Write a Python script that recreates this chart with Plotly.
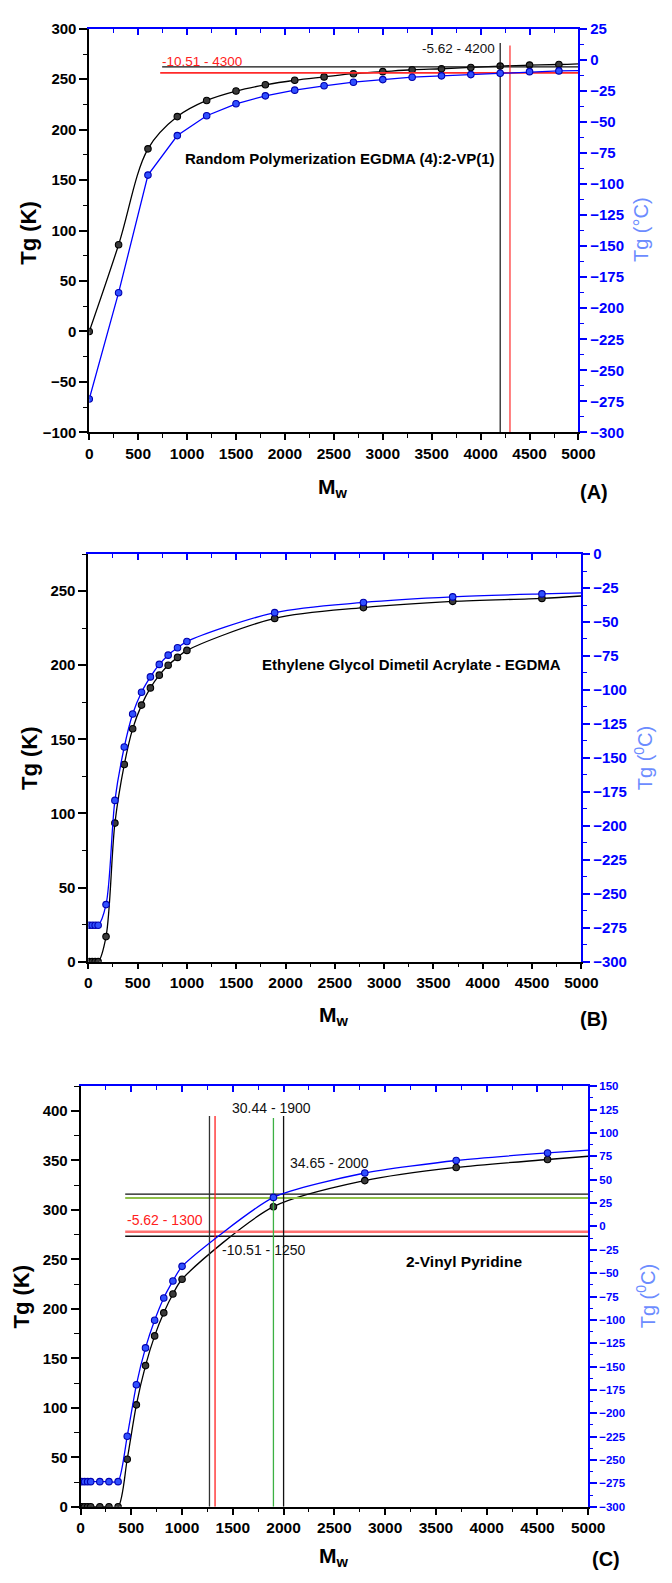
import plotly.graph_objects as go

# ---------------- DATA ----------------
# Panel A : Random Polymerization EGDMA (4):2-VP(1)
a_mw = [0, 300, 600, 900, 1200, 1500, 1800, 2100, 2400, 2700, 3000, 3300, 3600, 3900, 4200, 4500, 4800]
a_tg_k = [0, 86, 181, 213, 229, 238.3, 244.5, 249, 252.3, 255.5, 257.5, 259.4, 260.4, 261.7, 263, 264, 264.6]
a_tg_c = [-273.15, -187.5, -92.8, -61.0, -45.0, -35.4, -29.0, -24.4, -20.9, -18.0, -15.9, -14.0, -12.9, -11.9, -10.8, -9.5, -8.9]
a_curve_end = [5000, 265.3, -8.7]          # M, Tg(K), Tg(C) where the drawn curves end
a_hline_c = [-5.62, -10.51]
a_hline_start = [745, 725]
a_vline_mw = [4200, 4300]
a_vline_top_c = [13.5, 11.6]
a_labels = ["-5.62 - 4200", "-10.51 - 4300"]

# Panel B : Ethylene Glycol Dimetil Acrylate - EGDMA
b_mw = [10, 40, 70, 100, 180, 270, 365, 450, 540, 630, 720, 810, 905, 1000, 1890, 2790, 3695, 4600]
b_tg_k = [0, 0, 0, 0, 16.9, 93.5, 133, 157.1, 173.1, 184.7, 193.3, 200, 205.3, 210, 231.6, 238.9, 243.1, 245.1]
b_tg_c = [-273.15, -273.15, -273.15, -273.15, -258, -181.3, -142, -117.7, -101.7, -90.4, -81.2, -74.4, -69, -64.4, -43.1, -35.6, -31.5, -29.3]
b_curve_end = [5000, 246.7, -28.6]

# Panel C : 2-Vinyl Pyridine
c_mw = [10, 40, 70, 100, 190, 280, 370, 460, 550, 640, 730, 820, 910, 1000, 1900, 2800, 3700, 4600]
c_tg_k = [0, 0, 0, 0, 0, 0, 0, 48, 103, 142.7, 172.7, 196, 215, 230, 303.3, 329.7, 343, 351]
c_tg_c = [-273.15, -273.15, -273.15, -273.15, -273.15, -273.15, -273.15, -224.5, -169.5, -130.0, -100.4, -76.5, -58.3, -42.7, 31.1, 57.2, 70.6, 78.7]
c_curve_end = [5000, 354.3, 81.6]
c_hline_c = [34.65, 30.44, -5.62, -10.51]
c_hline_start = [440, 440, 440, 440]
c_vline_mw = [1270, 1325, 1900, 2000]
c_vline_top_c = [118.3, 118.3, 116.2, 118.3]
c_labels = ["34.65 - 2000", "30.44 - 1900", "-5.62 - 1300", "-10.51 - 1250"]

# ---------------- STYLE ----------------
W, H = 672, 1583
FONT = "Liberation Sans, Arial, Helvetica, sans-serif"
BLUE = "#0000ff"
LBLUE = "#6c8cff"


def px(x):
    return x / W


def py(y):
    return 1 - y / H


fig = go.Figure()
layout = dict(width=W, height=H, margin=dict(l=0, r=0, t=0, b=0), autosize=False,
              paper_bgcolor="white", plot_bgcolor="white", showlegend=False,
              font=dict(family=FONT))
annotations = []

panels = [
    dict(xb="x", xt="x2", yl="y", yr="y2", xd=(88, 593), yd=(20, 428), ylr=(-100, 300), yrr=(-300, 25),
         lfs=15, rfs=15, bfs=15.5),
    dict(xb="x3", xt="x4", yl="y3", yr="y4", xd=(87, 596), yd=(551, 963), ylr=(0, 275), yrr=(-300, 0),
         lfs=15, rfs=15, bfs=15.5),
    dict(xb="x5", xt="x6", yl="y5", yr="y6", xd=(79, 603), yd=(1089, 1514), ylr=(0, 425), yrr=(-300, 150),
         lfs=15, rfs=11.5, bfs=15.5),
]


def key(a):
    return ("xaxis" if a[0] == "x" else "yaxis") + a[1:]


for p in panels:
    xdom = [px(p["xd"][0]), px(p["xd"][1])]
    ydom = [py(p["yd"][1]), py(p["yd"][0])]
    layout[key(p["xb"])] = dict(
        domain=xdom, anchor=p["yl"], range=[0, 5000], tickmode="linear", tick0=0, dtick=500,
        ticks="outside", ticklen=6, tickwidth=1.5, tickcolor="black",
        showline=True, linecolor="black", linewidth=1.6, showgrid=False, zeroline=False,
        tickfont=dict(family=FONT, size=p["bfs"], color="black", weight="bold"),
        minor=dict(ticks="outside", ticklen=3.5, tickwidth=1.2, tickcolor="black", tick0=0, dtick=250, showgrid=False))
    layout[key(p["xt"])] = dict(
        overlaying=p["xb"], side="top", anchor=p["yl"], range=[0, 5000], tickmode="linear", tick0=0, dtick=500,
        ticks="inside", ticklen=6, tickwidth=1.5, tickcolor=BLUE, showticklabels=False,
        showline=True, linecolor=BLUE, linewidth=1.6, showgrid=False, zeroline=False,
        minor=dict(ticks="inside", ticklen=4, tickwidth=1.2, tickcolor=BLUE, tick0=0, dtick=250, showgrid=False))
    layout[key(p["yl"])] = dict(
        domain=ydom, anchor=p["xb"], range=list(p["ylr"]), tickmode="linear", tick0=0, dtick=50,
        ticks="outside", ticklen=8, tickwidth=1.5, tickcolor="black",
        showline=True, linecolor="black", linewidth=1.6, showgrid=False, zeroline=False,
        tickfont=dict(family=FONT, size=p["lfs"], color="black", weight="bold"),
        minor=dict(ticks="outside", ticklen=4.5, tickwidth=1.2, tickcolor="black", tick0=0, dtick=25, showgrid=False))
    layout[key(p["yr"])] = dict(
        overlaying=p["yl"], side="right", anchor=p["xb"], range=list(p["yrr"]), tickmode="linear", tick0=0, dtick=25,
        ticks="outside", ticklen=7, tickwidth=1.5, tickcolor=BLUE,
        showline=True, linecolor=BLUE, linewidth=1.6, showgrid=False, zeroline=False,
        tickfont=dict(family=FONT, size=p["rfs"], color=BLUE, weight="bold"),
        minor=dict(ticks="outside", ticklen=3.5, tickwidth=1.2, tickcolor=BLUE, tick0=0, dtick=12.5, showgrid=False))
    fig.add_trace(go.Scatter(x=[None], y=[None], xaxis=p["xt"], yaxis=p["yl"], hoverinfo="skip"))


def ref_line(xs, ys, color, width, xa, ya):
    fig.add_trace(go.Scatter(x=xs, y=ys, mode="lines", line=dict(color=color, width=width),
                             xaxis=xa, yaxis=ya, hoverinfo="skip"))


def series(mw, vals, end, xa, ya, color, mfill, mline, shape, smooth):
    line = dict(color=color, width=1.3, shape=shape)
    if shape == "spline":
        line["smoothing"] = smooth
    fig.add_trace(go.Scatter(x=mw + [end[0]], y=vals + [end[1]], mode="lines", line=line,
                             xaxis=xa, yaxis=ya, hoverinfo="skip"))
    fig.add_trace(go.Scatter(x=mw, y=vals, mode="markers",
                             marker=dict(size=6.5, color=mfill, line=dict(color=mline, width=1.1)),
                             xaxis=xa, yaxis=ya, hoverinfo="skip"))


# ---------- Panel A ----------
pa = panels[0]
for v, s, c, w in zip(a_hline_c, a_hline_start, ["#111111", "#ff2a2a"], [1.3, 1.8]):
    ref_line([s, 5000], [v, v], c, w, pa["xb"], pa["yr"])
for m, t, c in zip(a_vline_mw, a_vline_top_c, ["#111111", "#ff2a2a"]):
    ref_line([m, m], [-300, t], c, 1.2, pa["xb"], pa["yr"])
series(a_mw, a_tg_k, [a_curve_end[0], a_curve_end[1]], pa["xb"], pa["yl"], "black", "#3a3a3a", "#000000", "spline", 1.0)
series(a_mw, a_tg_c, [a_curve_end[0], a_curve_end[2]], pa["xb"], pa["yr"], BLUE, "#3050ff", "#0000b0", "linear", 0)

annotations += [
    dict(x=4170, y=9.5, xref="x", yref="y2", text=a_labels[0], xanchor="right", yanchor="middle",
         showarrow=False, font=dict(family=FONT, size=13.5, color="#111111")),
    dict(x=722, y=-1.2, xref="x", yref="y2", text=a_labels[1], xanchor="left", yanchor="middle",
         showarrow=False, font=dict(family=FONT, size=13.5, color="#ff2020")),
    dict(x=2553, y=-79.4, xref="x", yref="y2", text="Random Polymerization EGDMA (4):2-VP(1)",
         xanchor="center", yanchor="middle", showarrow=False,
         font=dict(family=FONT, size=15, color="black", weight="bold")),
]

# ---------- Panel B ----------
pb = panels[1]
series(b_mw, b_tg_k, [b_curve_end[0], b_curve_end[1]], pb["xb"], pb["yl"], "black", "#3a3a3a", "#000000", "spline", 0.9)
series(b_mw, b_tg_c, [b_curve_end[0], b_curve_end[2]], pb["xb"], pb["yr"], BLUE, "#3050ff", "#0000b0", "spline", 0.9)
annotations += [
    dict(x=3273, y=-81.6, xref="x3", yref="y4", text="Ethylene Glycol Dimetil Acrylate - EGDMA",
         xanchor="center", yanchor="middle", showarrow=False,
         font=dict(family=FONT, size=15, color="black", weight="bold")),
]

# ---------- Panel C ----------
pc = panels[2]
for v, s, c, w in zip(c_hline_c, c_hline_start, ["#111111", "#8fbf4a", "#ff7070", "#111111"], [1.3, 2.0, 2.4, 1.3]):
    ref_line([s, 5000], [v, v], c, w, pc["xb"], pc["yr"])
for m, t, c in zip(c_vline_mw, c_vline_top_c, ["#333333", "#ff2020", "#3cb043", "#111111"]):
    ref_line([m, m], [-300, t], c, 1.3, pc["xb"], pc["yr"])
series(c_mw, c_tg_k, [c_curve_end[0], c_curve_end[1]], pc["xb"], pc["yl"], "black", "#3a3a3a", "#000000", "spline", 0.8)
series(c_mw, c_tg_c, [c_curve_end[0], c_curve_end[2]], pc["xb"], pc["yr"], BLUE, "#3050ff", "#0000b0", "spline", 0.6)
annotations += [
    dict(x=2453, y=67.8, xref="x5", yref="y6", text=c_labels[0], xanchor="center", yanchor="middle",
         showarrow=False, font=dict(family=FONT, size=14, color="#111111")),
    dict(x=1881, y=127.1, xref="x5", yref="y6", text=c_labels[1], xanchor="center", yanchor="middle",
         showarrow=False, font=dict(family=FONT, size=14, color="#111111")),
    dict(x=437, y=7.1, xref="x5", yref="y6", text=c_labels[2], xanchor="left", yanchor="middle",
         showarrow=False, font=dict(family=FONT, size=14, color="#ff2020")),
    dict(x=1378, y=-24.7, xref="x5", yref="y6", text=c_labels[3], xanchor="left", yanchor="middle",
         showarrow=False, font=dict(family=FONT, size=14, color="#111111")),
    dict(x=3773, y=-37.1, xref="x5", yref="y6", text="2-Vinyl Pyridine", xanchor="center", yanchor="middle",
         showarrow=False, font=dict(family=FONT, size=15.5, color="black", weight="bold")),
]

# ---------- Axis titles / panel letters (paper positions) ----------
titles = [
    ("Tg (K)", 25, 226, -90, 22, "black", True),
    ("Tg (°C)", 657, 223, -90, 20, LBLUE, False),
    ("M<sub>w</sub>", 340, 484, 0, 21, "black", True),
    ("(A)", 609, 488, 0, 20, "black", True),
    ("Tg (K)", 27, 757, -90, 22, "black", True),
    ("Tg (<sup>0</sup>C)", 660, 757, -90, 20, LBLUE, False),
    ("M<sub>w</sub>", 341, 1018, 0, 21, "black", True),
    ("(B)", 609, 1021, 0, 20, "black", True),
    ("Tg (K)", 18, 1301, -90, 22, "black", True),
    ("Tg (<sup>0</sup>C)", 662, 1301, -90, 20, LBLUE, False),
    ("M<sub>w</sub>", 341, 1565, 0, 21, "black", True),
    ("(C)", 621, 1567, 0, 20, "black", True),
]
for t, x, y, ang, sz, col, bold in titles:
    f = dict(family=FONT, size=sz, color=col)
    if bold:
        f["weight"] = "bold"
    annotations.append(dict(x=px(x), y=py(y), xref="paper", yref="paper", text=t, textangle=ang,
                            xanchor="center", yanchor="middle", showarrow=False, font=f))

layout["annotations"] = annotations
fig.update_layout(**layout)
fig.write_html("out.html")
